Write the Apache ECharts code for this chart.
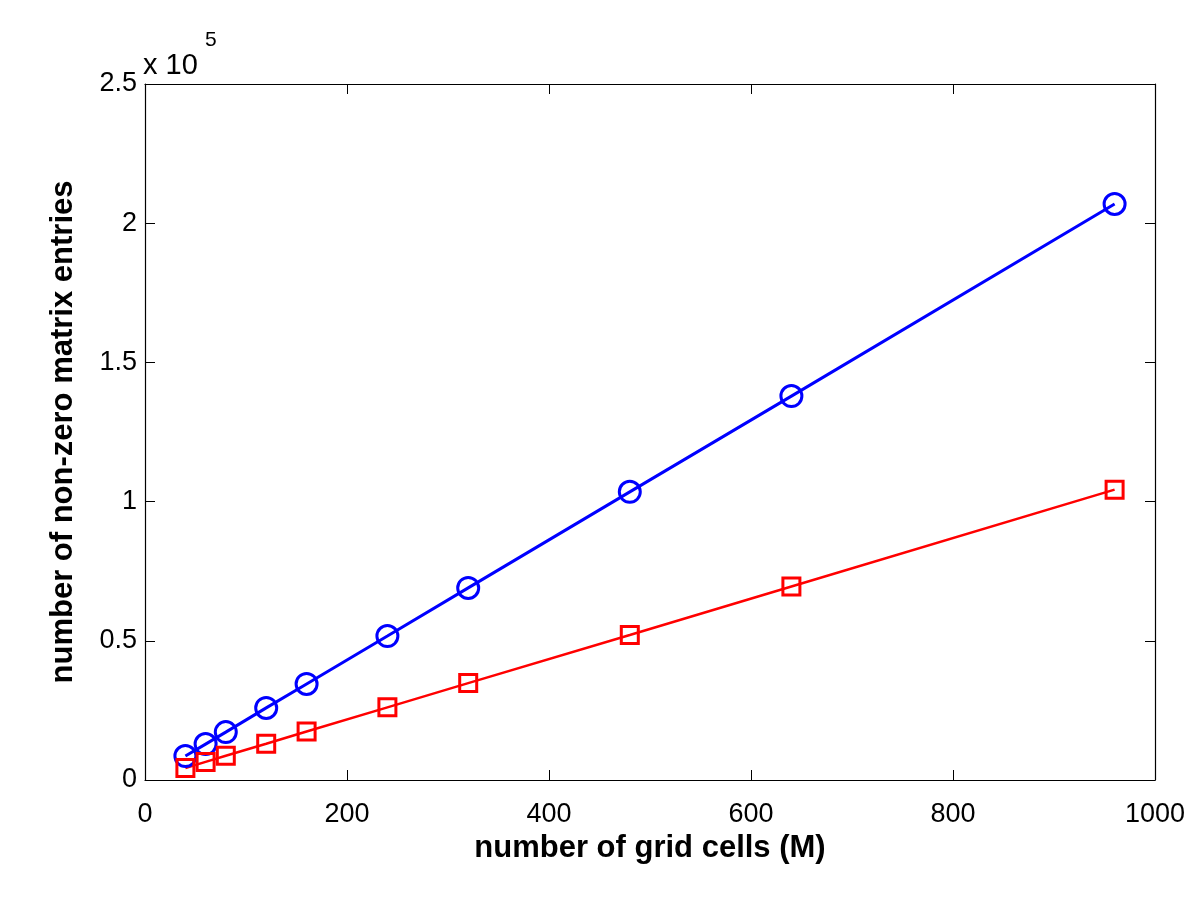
<!DOCTYPE html>
<html>
<head>
<meta charset="utf-8">
<script src="https://cdn.jsdelivr.net/npm/echarts@6/dist/echarts.min.js"></script>
<style>
  html, body { margin: 0; padding: 0; background: #fff; }
  #chart { width: 1200px; height: 900px; }
</style>
</head>
<body>
<div id="chart"></div>
<script>
// grid cell counts (M)
const gridCells = [40, 60, 80, 120, 160, 240, 320, 480, 640, 960];
// blue circles
const blueNnz = [8600, 12900, 17200, 25900, 34500, 51700, 69000, 103500, 137900, 206900];
// red squares
const redNnz = [4300, 6500, 8700, 13000, 17400, 26100, 34800, 52100, 69500, 104300];

const font = 'Liberation Sans, Arial, Helvetica, sans-serif';

const myChart = echarts.init(document.getElementById('chart'));

// box axes with ticks pointing inwards, like matlab
function tick() {
  return { show: true, inside: true, length: 10, lineStyle: { color: '#000', width: 1 } };
}
function axisLine() {
  return { show: true, onZero: false, lineStyle: { color: '#000', width: 1.2 } };
}
const labelStyle = { fontFamily: font, fontSize: 27, color: '#000' };
const nameStyle = { fontFamily: font, fontSize: 31, fontWeight: 'bold', color: '#000' };

const option = {
  backgroundColor: '#fff',
  animation: false,
  grid: { left: 145, right: 45, top: 84, bottom: 120 },
  xAxis: [
    {
      type: 'value',
      min: 0, max: 1000, interval: 200,
      position: 'bottom',
      name: 'number of grid cells (M)',
      nameLocation: 'middle',
      nameGap: 45,
      nameTextStyle: nameStyle,
      axisLine: axisLine(),
      axisTick: tick(),
      splitLine: { show: false },
      axisLabel: Object.assign({ margin: 21, formatter: v => String(v) }, labelStyle),
    },
    {
      type: 'value',
      min: 0, max: 1000, interval: 200,
      position: 'top',
      axisLine: axisLine(),
      axisTick: tick(),
      splitLine: { show: false },
      axisLabel: { show: false },
    },
  ],
  yAxis: [
    {
      type: 'value',
      min: 0, max: 250000, interval: 50000,
      position: 'left',
      name: 'number of non-zero matrix entries',
      nameLocation: 'middle',
      nameGap: 66,
      nameTextStyle: nameStyle,
      axisLine: axisLine(),
      axisTick: tick(),
      splitLine: { show: false },
      axisLabel: Object.assign({ margin: 8, formatter: v => String(v / 100000) }, labelStyle),
    },
    {
      type: 'value',
      min: 0, max: 250000, interval: 50000,
      position: 'right',
      axisLine: axisLine(),
      axisTick: tick(),
      splitLine: { show: false },
      axisLabel: { show: false },
    },
  ],
  graphic: [
    {
      type: 'text',
      left: 143, top: 51,
      style: { text: 'x 10', font: '29px ' + font, fill: '#000' },
    },
    {
      type: 'text',
      left: 205, top: 30,
      style: { text: '5', font: '21px ' + font, fill: '#000' },
    },
  ],
  series: [
    {
      name: 'blue',
      type: 'line',
      data: gridCells.map((x, i) => [x, blueNnz[i]]),
      symbol: 'circle',
      symbolSize: 21,
      lineStyle: { color: '#0000ff', width: 3 },
      itemStyle: { color: 'rgba(0,0,0,0)', borderColor: '#0000ff', borderWidth: 3 },
    },
    {
      name: 'red',
      type: 'line',
      data: gridCells.map((x, i) => [x, redNnz[i]]),
      symbol: 'rect',
      symbolSize: 17,
      lineStyle: { color: '#ff0000', width: 2.5 },
      itemStyle: { color: 'rgba(0,0,0,0)', borderColor: '#ff0000', borderWidth: 3 },
    },
  ],
};

myChart.setOption(option);
</script>
</body>
</html>
